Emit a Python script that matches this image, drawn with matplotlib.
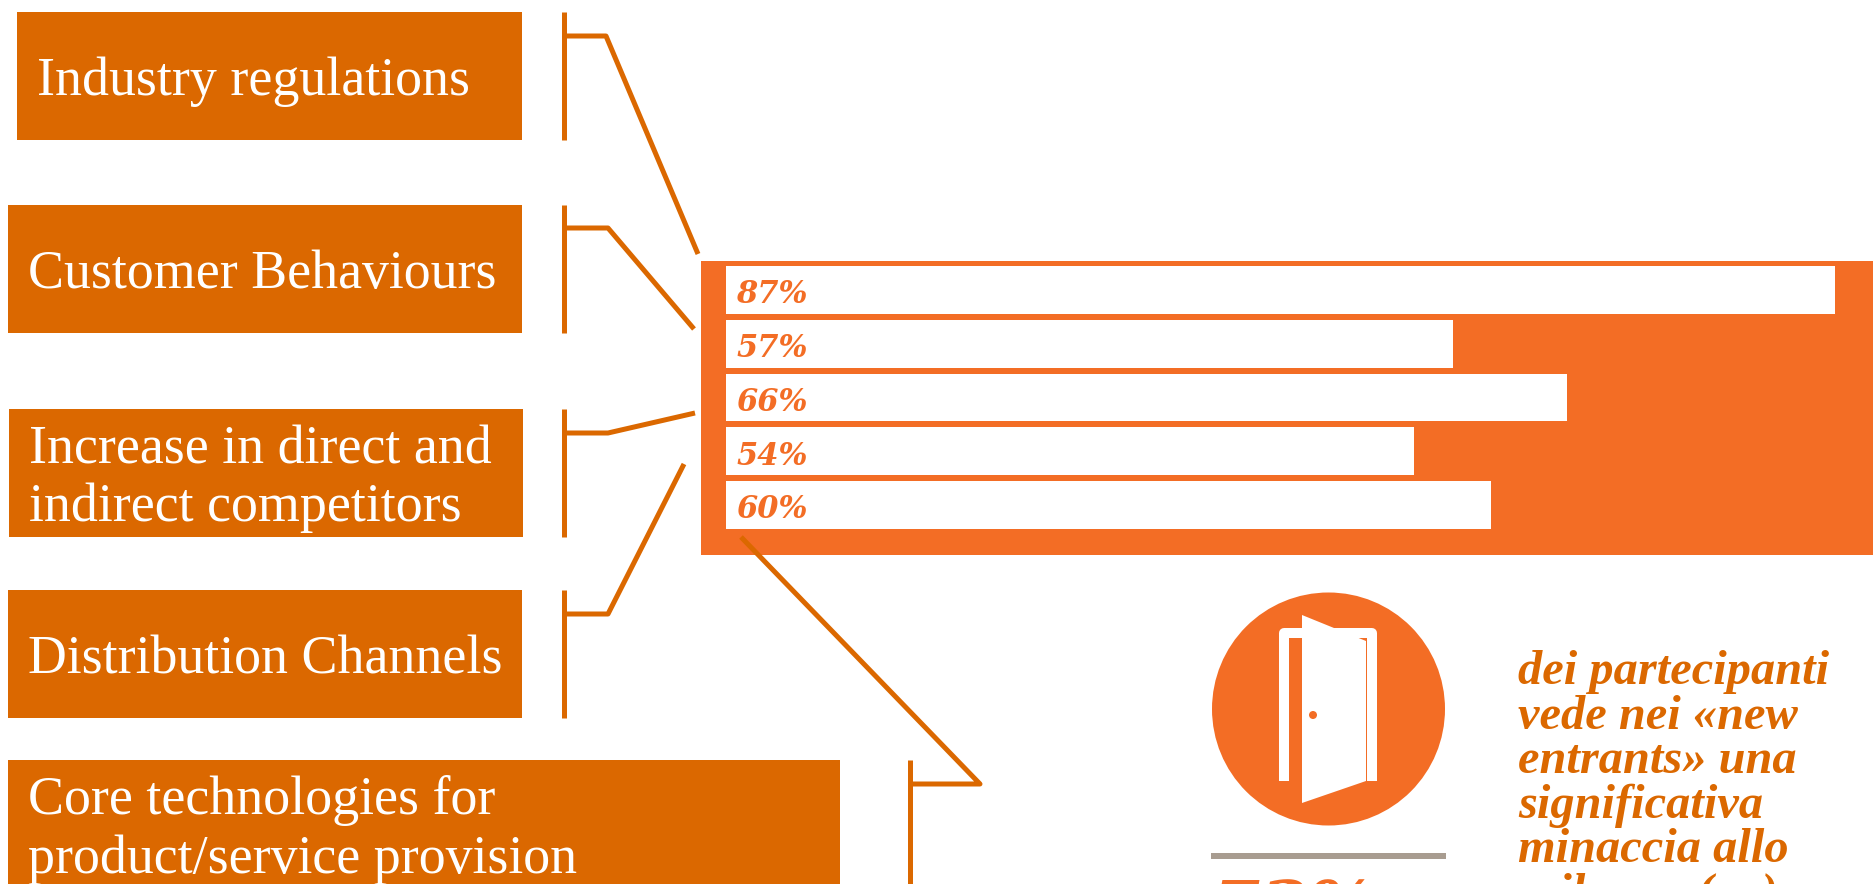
import matplotlib
matplotlib.use('Agg')
from matplotlib import pyplot as plt
from matplotlib.patches import Circle, Polygon, Rectangle

WIDTH, HEIGHT = 1874, 884
DARK_ORANGE = '#DB6800'
ORANGE = '#F36D25'
GREY = '#A89C90'

# Drivers on the left and the share of respondents for each one
drivers = ['Industry regulations', 'Customer Behaviours',
           'Increase in direct and\nindirect competitors', 'Distribution Channels',
           'Core technologies for\nproduct/service provision']
shares = [87, 57, 66, 54, 60]
share_labels = ['87%', '57%', '66%', '54%', '60%']
headline = '73%'
caption = ['dei partecipanti', 'vede nei «new', 'entrants» una', 'significativa',
           'minaccia allo', 'sviluppo (…)']

# Box and connector geometry: left, right, top, bottom, bend point, end point
boxes = [(17, 522, 12, 140), (8, 522, 205, 333), (9, 523, 409, 537),
         (8, 522, 590, 718), (8, 840, 760, 900)]
brackets = [(564, 36, 606, (698, 254)), (564, 228, 608, (694, 329)),
            (564, 433, 608, (695, 413)), (564, 614, 608, (684, 464)),
            (910, 784, 980, (741, 537))]


def draw_drivers(ax):
    for (x0, x1, y0, y1), label in zip(boxes, drivers):
        ax.add_patch(Rectangle((x0, y0), x1 - x0, y1 - y0, color=DARK_ORANGE, lw=0))
        # The last box runs off the page, so its text is centred on a fixed line
        ax.text(x0 + 20, min((y0 + y1) / 2 + 6, 830), label, color='white', va='center', ha='left',
                family='Liberation Serif', fontsize=38.8, linespacing=1.2)
    for (x0, x1, y0, y1), (vx, hy, bend, end) in zip(boxes, brackets):
        ax.plot([vx, vx], [y0, y1], color=DARK_ORANGE, lw=3.6, solid_capstyle='butt')
        ax.plot([vx, bend, end[0]], [hy, hy, end[1]], color=DARK_ORANGE, lw=3.6,
                solid_capstyle='butt', solid_joinstyle='round')


def draw_bars():
    # Bar axes start at the white bars' left edge: 12.75 px for each percentage point
    left, top, bottom = 726, 263, 532
    px_per_point = 12.75
    bar_ax = fig.add_axes([left / WIDTH, 1 - bottom / HEIGHT, (WIDTH - left) / WIDTH, (bottom - top) / HEIGHT])
    bar_ax.set_xlim(0, (WIDTH - left) / px_per_point)
    bar_ax.set_ylim(4.5, -0.5)
    bar_ax.barh(range(len(shares)), shares, height=0.89, color='white')
    for i, label in enumerate(share_labels):
        bar_ax.text(0.8, i + 0.09, label, color=ORANGE, va='center', ha='left', family='DejaVu Serif',
                    fontsize=22, fontweight='bold', fontstyle='italic')
    bar_ax.axis('off')


def draw_door(ax):
    ax.add_patch(Circle((1328.5, 709), 116.5, color=ORANGE, lw=0))
    # Frame
    ax.plot([1284, 1284, 1372.5, 1372.5], [781, 633, 633, 781], color='white',
            lw=7.2, solid_capstyle='butt', solid_joinstyle='round')
    # Door leaf and handle
    ax.add_patch(Polygon([(1302, 615), (1366, 641), (1366, 781), (1302, 803)], color='white', lw=0))
    ax.add_patch(Circle((1313, 715), 4, color=ORANGE, lw=0))
    ax.add_patch(Rectangle((1211, 853), 235, 6, color=GREY, lw=0))


fig = plt.figure(figsize=(WIDTH / 100, HEIGHT / 100), dpi=100)
ax = fig.add_axes([0, 0, 1, 1])
ax.set_xlim(0, WIDTH)
ax.set_ylim(HEIGHT, 0)
ax.axis('off')

ax.add_patch(Rectangle((701, 261), WIDTH - 701, 294, color=ORANGE, lw=0))
draw_drivers(ax)
draw_door(ax)
draw_bars()

ax.text(1293, 912, headline, color=ORANGE, ha='center', va='center', family='DejaVu Serif',
        fontsize=50, fontweight='bold', fontstyle='italic', clip_on=True)
for i, line in enumerate(caption):
    ax.text(1518, 672 + i * 44.6, line, color=DARK_ORANGE, ha='left', va='center', family='Liberation Serif',
            fontsize=34.8, fontweight='bold', fontstyle='italic', clip_on=True)

fig.savefig('out.png', dpi=100)
